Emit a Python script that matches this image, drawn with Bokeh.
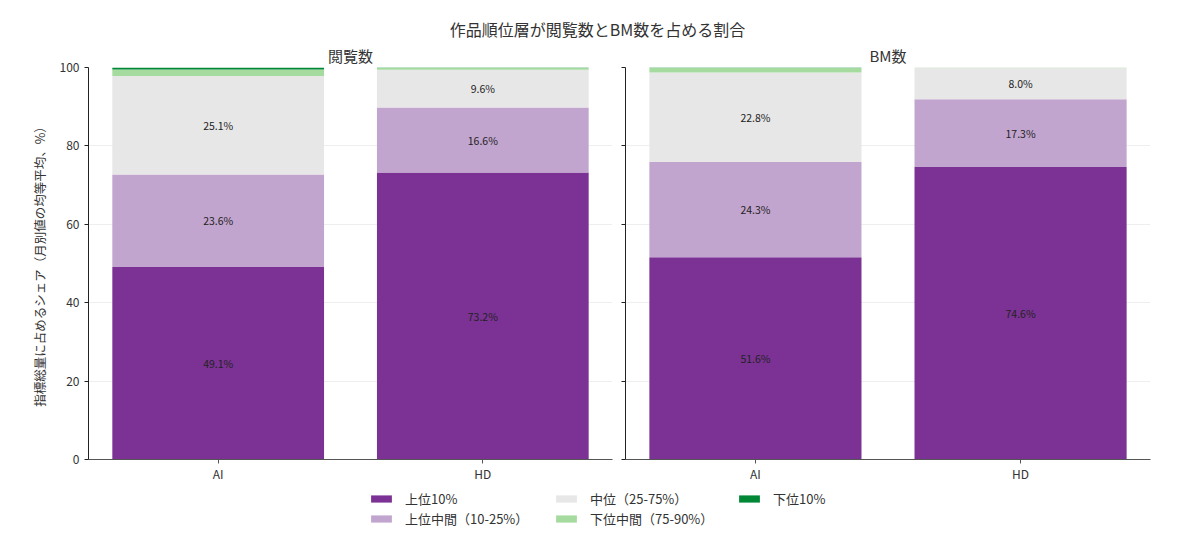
from bokeh.plotting import figure
from bokeh.layouts import column, row
from bokeh.models import (ColumnDataSource, Range1d, FixedTicker, Legend, LegendItem, LabelSet)
from bokeh.embed import file_html
from bokeh.resources import INLINE
from bokeh.core.properties import value

FONT = "Noto Sans CJK JP"
TXT = "#333333"

main_title = "作品順位層が閲覧数とBM数を占める割合"
metrics = ["閲覧数", "BM数"]
categories = ["AI", "HD"]
tiers = ["上位10%", "上位中間（10-25%）", "中位（25-75%）", "下位中間（75-90%）", "下位10%"]
colors = ["#7b3294", "#c2a5cf", "#e7e7e7", "#a6dba0", "#008837"]
y_label = "指標総量に占めるシェア（月別値の均等平均、%）"
y_ticks = [0, 20, 40, 60, 80, 100]

# shares per tier, for [AI, HD]
views_top10 = [49.1, 73.2]
views_uppermid = [23.6, 16.6]
views_mid = [25.1, 9.6]
views_lowermid = [1.7, 0.5]
views_bottom10 = [0.5, 0.1]

bm_top10 = [51.6, 74.6]
bm_uppermid = [24.3, 17.3]
bm_mid = [22.8, 8.0]
bm_lowermid = [1.2, 0.1]
bm_bottom10 = [0.1, 0.0]

data = {
    "閲覧数": [views_top10, views_uppermid, views_mid, views_lowermid, views_bottom10],
    "BM数": [bm_top10, bm_uppermid, bm_mid, bm_lowermid, bm_bottom10],
}

xs = list(range(len(categories)))
LABEL_MIN = 5.0

LEFT_W, RIGHT_W = 618, 566
LEFT_BL, LEFT_BR = 88, 6
RIGHT_BL, RIGHT_BR = 7, 34


def panel(metric, first):
    p = figure(width=LEFT_W if first else RIGHT_W, height=443,
               x_range=Range1d(-0.49, 1.49), y_range=Range1d(0, 100),
               output_backend="svg", toolbar_location=None,
               min_border_left=LEFT_BL if first else RIGHT_BL,
               min_border_right=LEFT_BR if first else RIGHT_BR,
               min_border_top=4, min_border_bottom=10,
               title=metric)
    p.outline_line_color = None
    p.title.align = "center"
    p.title.text_font = FONT
    p.title.text_font_size = "15px"
    p.title.text_font_style = "normal"
    p.title.text_color = TXT
    p.title.standoff = 3

    series = data[metric]
    bottom = [0.0] * len(xs)
    lab_x, lab_y, lab_t = [], [], []
    for vals, col in zip(series, colors):
        top = [b + v for b, v in zip(bottom, vals)]
        src = ColumnDataSource(dict(x=xs, bottom=bottom, top=top))
        p.vbar(x="x", bottom="bottom", top="top", width=0.8, source=src,
               fill_color=col, line_color=None)
        for x, b, t, v in zip(xs, bottom, top, vals):
            if v >= LABEL_MIN:
                lab_x.append(x)
                lab_y.append((b + t) / 2)
                lab_t.append(f"{v:.1f}%")
        bottom = top

    lab_src = ColumnDataSource(dict(x=lab_x, y=lab_y, t=lab_t))
    p.add_layout(LabelSet(x="x", y="y", text="t", source=lab_src,
                          text_align="center", text_baseline="middle",
                          text_font=value(FONT), text_font_size="10.5px",
                          text_color="#222222"))

    p.xaxis.ticker = FixedTicker(ticks=xs)
    p.xaxis.major_label_overrides = {i: c for i, c in enumerate(categories)}
    p.yaxis.ticker = FixedTicker(ticks=y_ticks)
    for ax in (p.xaxis, p.yaxis):
        ax.minor_tick_line_color = None
        ax.major_tick_in = 0
        ax.major_tick_out = 4
        ax.major_label_text_font = FONT
        ax.major_label_text_font_size = "12px"
        ax.major_label_text_color = TXT
    p.xaxis.axis_line_color = "#555555"
    p.xaxis.major_tick_line_color = "#555555"
    p.yaxis.axis_line_color = "#222222"
    p.yaxis.major_tick_line_color = "#222222"
    p.xaxis.major_label_standoff = 1
    if first:
        p.yaxis.axis_label = y_label
        p.yaxis.axis_label_text_font = FONT
        p.yaxis.axis_label_text_font_size = "12.5px"
        p.yaxis.axis_label_text_font_style = "normal"
        p.yaxis.axis_label_text_color = TXT
        p.yaxis.axis_label_standoff = 8
    else:
        p.yaxis.major_label_text_font_size = "0px"
        p.yaxis.major_label_standoff = 0
    p.xgrid.grid_line_color = None
    p.ygrid.grid_line_color = "#eeeeee"
    p.ygrid.grid_line_width = 1
    return p


left = panel(metrics[0], True)
right = panel(metrics[1], False)

# heading strip with the main title
tfig = figure(width=1184, height=41, x_range=Range1d(0, 1184), y_range=Range1d(41, 0),
              output_backend="svg", toolbar_location=None, min_border=0)
tfig.axis.visible = False
tfig.grid.visible = False
tfig.outline_line_color = None
tfig.text(x=[597], y=[28.5], text=[main_title], text_align="center", text_baseline="middle",
          text_font=value(FONT), text_font_size="16px", text_color=TXT)

# legend strip: hidden stand-in renderers give the legend its swatches
lfig = figure(width=1184, height=50, x_range=Range1d(0, 1), y_range=Range1d(0, 1),
              output_backend="svg", toolbar_location=None, min_border=0)
lfig.axis.visible = False
lfig.grid.visible = False
lfig.outline_line_color = None
items = []
for name, col, vals in zip(tiers, colors, data[metrics[0]]):
    r = lfig.vbar(x=xs, top=vals, width=0.8, fill_color=col, line_color=None)
    r.visible = False
    items.append(LegendItem(label=name, renderers=[r]))

ROW_H = 20
col_groups = [items[0:2], items[2:4], items[4:5]]
col_x = [368, 553, 736]
for grp, cx in zip(col_groups, col_x):
    n = len(grp)
    lg = Legend(items=grp, orientation="vertical", location=(cx, 50 - 4 - ROW_H * n),
                glyph_width=26, glyph_height=9, label_height=ROW_H, spacing=0,
                label_standoff=11, padding=0, margin=0,
                label_text_font=FONT, label_text_font_size="13px", label_text_color=TXT,
                label_text_baseline="middle",
                border_line_color=None, background_fill_alpha=0,
                inactive_fill_alpha=0)
    lfig.add_layout(lg, "center")

layout = column(tfig, row(left, right), lfig)
open("out.html", "w").write(file_html(layout, INLINE))
